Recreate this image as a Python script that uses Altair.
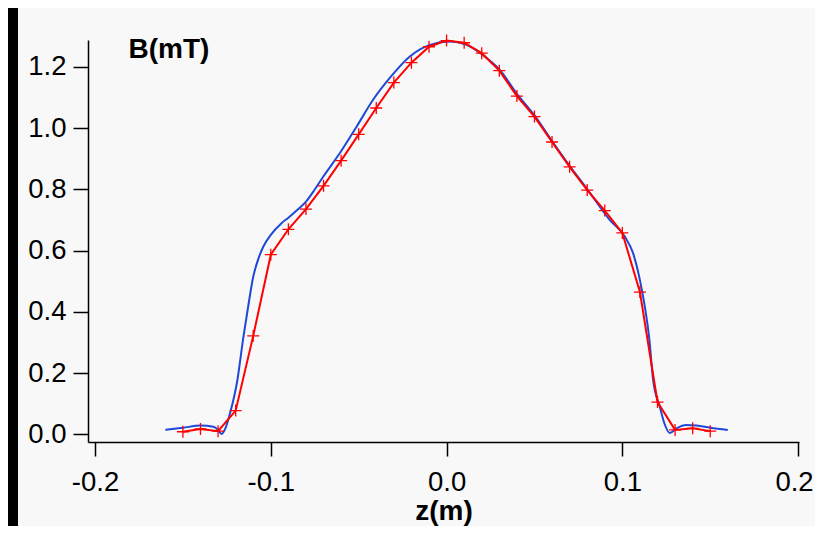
import altair as alt
import pandas as pd

# Measured series (red, with + markers)
red_z = [-0.15, -0.14, -0.13, -0.12, -0.11, -0.10, -0.09, -0.08, -0.07, -0.06,
         -0.05, -0.04, -0.03, -0.02, -0.01, 0.00, 0.01, 0.02, 0.03, 0.04,
         0.05, 0.06, 0.07, 0.08, 0.09, 0.10, 0.11, 0.12, 0.13, 0.14, 0.15]
red_b = [0.009, 0.018, 0.011, 0.078, 0.322, 0.587, 0.670, 0.736, 0.812, 0.894,
         0.980, 1.066, 1.149, 1.214, 1.266, 1.286, 1.279, 1.245, 1.188, 1.105,
         1.038, 0.955, 0.874, 0.798, 0.731, 0.658, 0.465, 0.106, 0.015, 0.020, 0.011]

# Simulated series (blue, smooth)
blue_z = [-0.160, -0.150, -0.140, -0.1327, -0.130, -0.128, -0.1255, -0.1232, -0.119,
          -0.1157, -0.1129, -0.110, -0.107, -0.1043, -0.100, -0.0939, -0.090, -0.085,
          -0.0796, -0.075, -0.0704, -0.0607, -0.0512, -0.0419, -0.0323, -0.0209, -0.0095,
          0.0019, 0.0114, 0.0206, 0.0303, 0.040, 0.050, 0.060, 0.070, 0.080, 0.0929,
          0.1014, 0.1061, 0.110, 0.1128, 0.1153, 0.1175, 0.1213, 0.124, 0.127, 0.1308,
          0.1365, 0.1422, 0.150, 0.160]
blue_b = [0.015, 0.022, 0.029, 0.025, 0.015, 0.002, 0.025, 0.069, 0.178,
          0.314, 0.417, 0.515, 0.575, 0.613, 0.652, 0.690, 0.708, 0.733,
          0.763, 0.800, 0.840, 0.919, 1.005, 1.092, 1.164, 1.234, 1.272,
          1.283, 1.272, 1.239, 1.190, 1.112, 1.042, 0.958, 0.877, 0.801, 0.700,
          0.646, 0.592, 0.504, 0.417, 0.314, 0.178, 0.091, 0.035, 0.005, 0.020,
          0.031, 0.029, 0.022, 0.015]

x_ticks = [-0.2, -0.1, 0.0, 0.1, 0.2]
y_ticks = [0.0, 0.2, 0.4, 0.6, 0.8, 1.0, 1.2]

red_df = pd.DataFrame({"z": red_z, "B": red_b})
blue_df = pd.DataFrame({"z": blue_z, "B": blue_b})

FONT = "Liberation Sans"

xscale = alt.Scale(domain=[-0.204, 0.2005], nice=False, zero=False)
yscale = alt.Scale(domain=[-0.0245, 1.288], nice=False, zero=False)

xaxis = alt.Axis(
    values=x_ticks, grid=False, zindex=1,
    labelExpr="(datum.value < 0 ? '-' : '') + format(abs(datum.value), '.1f')",
    labelFont=FONT, labelFontSize=27.5, labelColor="black", labelPadding=12,
    labelFlush=3, labelFlushOffset=15, labelOverlap=False,
    tickSize=14, tickColor="black", tickWidth=1.5,
    domainColor="black", domainWidth=1.5,
    title="z(m)", titleFont=FONT, titleFontSize=28, titleFontWeight="bold",
    titleColor="black", titleBaseline="alphabetic", titleY=77,
)
yaxis = alt.Axis(
    values=y_ticks, grid=False, zindex=1, format=".1f",
    labelFont=FONT, labelFontSize=27.5, labelColor="black", labelPadding=7,
    labelFlush=False, labelOverlap=False,
    tickSize=15, tickColor="black", tickWidth=1.5,
    domainColor="black", domainWidth=1.5,
    title="B(mT)", titleFont=FONT, titleFontSize=28, titleFontWeight="bold",
    titleColor="black", titleAngle=0, titleAlign="left", titleBaseline="alphabetic",
    titleX=40, titleY=17,
)

panel = alt.Chart(pd.DataFrame({"a": [0]})).mark_rect(color="#f8f8f8").encode(
    x=alt.value(-70), x2=alt.value(732), y=alt.value(-32), y2=alt.value(492)
)

blue_line = alt.Chart(blue_df).mark_line(
    color="#1f48d8", strokeWidth=2, interpolate="monotone"
).encode(
    x=alt.X("z:Q", scale=xscale, axis=xaxis),
    y=alt.Y("B:Q", scale=yscale, axis=yaxis),
)

red_line = alt.Chart(red_df).mark_line(color="#ff0000", strokeWidth=2).encode(
    x=alt.X("z:Q", scale=xscale),
    y=alt.Y("B:Q", scale=yscale),
)

red_pts = alt.Chart(red_df).mark_point(
    shape="M-1,0L1,0M0,-1L0,1", filled=False, stroke="#ff0000",
    strokeWidth=1.3, size=144, opacity=1,
).encode(
    x=alt.X("z:Q", scale=xscale),
    y=alt.Y("B:Q", scale=yscale),
)

chart = alt.layer(panel, blue_line, red_line, red_pts).properties(
    width=711, height=402,
    background="black",
    autosize=alt.AutoSizeParams(type="none"),
    padding={"left": 80, "top": 32, "right": 16, "bottom": 84},
).configure_view(stroke=None)

chart.save("out.html", embed_options={"renderer": "svg", "actions": False})
